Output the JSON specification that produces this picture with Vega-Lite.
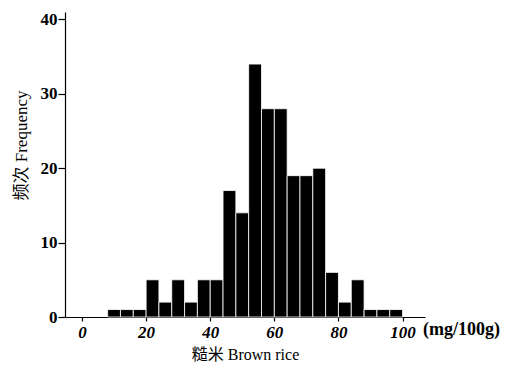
{
  "$schema": "https://vega.github.io/schema/vega-lite/v6.json",
  "width": 360,
  "height": 305,
  "autosize": {"type": "none"},
  "padding": {"left": 65, "top": 12, "right": 83, "bottom": 53},
  "background": "white",
  "config": {
    "view": {"stroke": null},
    "font": "Liberation Serif",
    "axis": {"grid": false, "domainColor": "black", "tickColor": "black", "labelColor": "black", "titleColor": "black", "domainWidth": 1.2, "tickWidth": 1.2}
  },
  "datasets": {
    "bins": [
      {"start": 8, "end": 12, "count": 1},
      {"start": 12, "end": 16, "count": 1},
      {"start": 16, "end": 20, "count": 1},
      {"start": 20, "end": 24, "count": 5},
      {"start": 24, "end": 28, "count": 2},
      {"start": 28, "end": 32, "count": 5},
      {"start": 32, "end": 36, "count": 2},
      {"start": 36, "end": 40, "count": 5},
      {"start": 40, "end": 44, "count": 5},
      {"start": 44, "end": 48, "count": 17},
      {"start": 48, "end": 52, "count": 14},
      {"start": 52, "end": 56, "count": 34},
      {"start": 56, "end": 60, "count": 28},
      {"start": 60, "end": 64, "count": 28},
      {"start": 64, "end": 68, "count": 19},
      {"start": 68, "end": 72, "count": 19},
      {"start": 72, "end": 76, "count": 20},
      {"start": 76, "end": 80, "count": 6},
      {"start": 80, "end": 84, "count": 2},
      {"start": 84, "end": 88, "count": 5},
      {"start": 88, "end": 92, "count": 1},
      {"start": 92, "end": 96, "count": 1},
      {"start": 96, "end": 100, "count": 1}
    ],
    "unit": [{"x": 106.4, "y": 0, "label": "(mg/100g)"}]
  },
  "layer": [
    {
      "data": {"name": "bins"},
      "mark": {"type": "bar", "color": "black", "stroke": "white", "strokeWidth": 0.8},
      "encoding": {
        "x": {
          "field": "start", "type": "quantitative",
          "scale": {"domain": [-5.3, 107], "nice": false, "zero": false},
          "axis": {
            "values": [0, 20, 40, 60, 80, 100],
            "title": "糙米  Brown rice",
            "titleFont": "Liberation Serif, Noto Sans CJK SC",
            "titleFontSize": 16,
            "titleFontWeight": "normal",
            "titlePadding": 6,
            "labelFontSize": 17,
            "labelFontWeight": "bold",
            "labelFontStyle": "italic",
            "labelPadding": 3,
            "tickSize": 4
          }
        },
        "x2": {"field": "end"},
        "y": {
          "field": "count", "type": "quantitative",
          "scale": {"domain": [0, 41], "nice": false},
          "axis": {
            "values": [0, 10, 20, 30, 40],
            "title": "频次  Frequency",
            "titleFont": "Liberation Serif, Noto Sans CJK SC",
            "titleFontSize": 17,
            "titleFontWeight": "normal",
            "titleY": 133,
            "titlePadding": 10,
            "labelFontSize": 17,
            "labelFontWeight": "bold",
            "labelPadding": 1,
            "tickSize": 7
          }
        },
        "y2": {"datum": 0}
      }
    },
    {
      "data": {"name": "unit"},
      "mark": {"type": "text", "align": "left", "baseline": "middle", "dy": 13, "fontSize": 18, "fontWeight": "bold", "font": "Liberation Serif", "color": "black"},
      "encoding": {
        "x": {"field": "x", "type": "quantitative"},
        "y": {"field": "y", "type": "quantitative"},
        "text": {"field": "label"}
      }
    }
  ]
}
